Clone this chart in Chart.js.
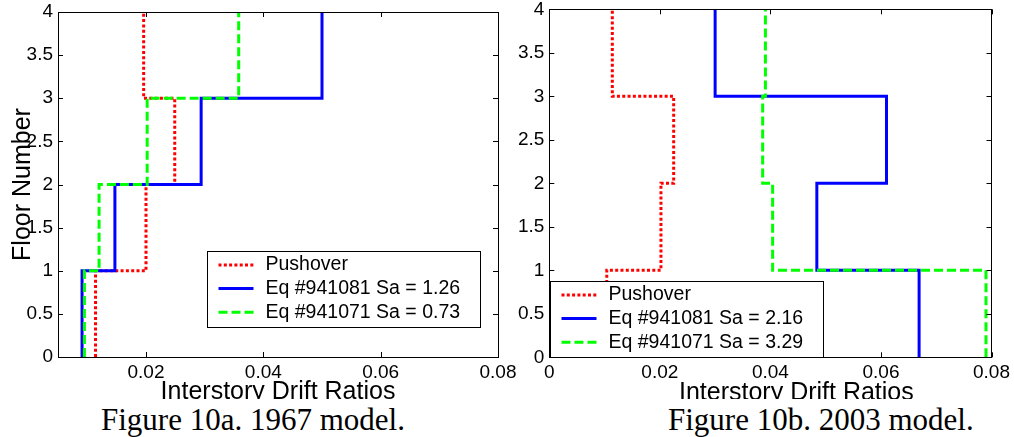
<!DOCTYPE html>
<html>
<head>
<meta charset="utf-8">
<script src="https://cdn.jsdelivr.net/npm/chart.js@4.4.1/dist/chart.umd.min.js"></script>
<style>
  body { margin: 0; background: #fff; width: 1014px; height: 437px; position: relative; overflow: hidden; }
  canvas { position: absolute; top: -10px; }
  #chart1967 { left: 0; }
  #chart2003 { left: 505px; }
  .xtitle { position: absolute; font: 25px/1 "Liberation Sans", Arial, sans-serif; white-space: nowrap; color: #000; }
  .captions { position: absolute; left: 0; top: 399px; width: 1014px; height: 38px; background: #fff; }
  .caption { position: absolute; top: 5px; font: 31px/1 "Liberation Serif", "Times New Roman", serif; white-space: nowrap; color: #000; }
</style>
</head>
<body>
<canvas id="chart1967" width="530" height="430"></canvas>
<canvas id="chart2003" width="509" height="430"></canvas>
<div class="xtitle" style="left:679px; top:379px">Interstory Drift Ratios</div>
<div class="captions">
  <span class="caption" style="left:101px">Figure 10a. 1967 model.</span>
  <span class="caption" style="left:668px">Figure 10b. 2003 model.</span>
</div>
<script>
const floors = [0, 1, 2, 3, 4];
const yTicks = [0, 0.5, 1, 1.5, 2, 2.5, 3, 3.5, 4];
const yTickLabels = ['0', '0.5', '1', '1.5', '2', '2.5', '3', '3.5', '4'];

// 1967 model: drift ratio of stories 1..4
const labels1967 = ['Pushover', 'Eq #941081 Sa = 1.26', 'Eq #941071 Sa = 0.73'];
const pushover1967 = [0.0114, 0.0200, 0.0249, 0.0196];
const eq941081_1967 = [0.0091, 0.0147, 0.0294, 0.0500];
const eq941071_1967 = [0.0095, 0.0120, 0.0202, 0.0358];
const xTicks1967 = [0.02, 0.04, 0.06, 0.08];
const xTickLabels1967 = ['0.02', '0.04', '0.06', '0.08'];

// 2003 model
const labels2003 = ['Pushover', 'Eq #941081 Sa = 2.16', 'Eq #941071 Sa = 3.29'];
const pushover2003 = [0.0104, 0.0202, 0.0225, 0.0114];
const eq941081_2003 = [0.0669, 0.0484, 0.0610, 0.0300];
const eq941071_2003 = [0.0790, 0.0404, 0.0386, 0.0391];
const xTicks2003 = [0, 0.02, 0.04, 0.06, 0.08];
const xTickLabels2003 = ['0', '0.02', '0.04', '0.06', '0.08'];

Chart.defaults.font.family = '"Liberation Sans", Arial, sans-serif';
Chart.defaults.color = '#000';

// constant drift over each story -> staircase profile
function profile(drifts) {
    const pts = [];
    drifts.forEach((d, i) => {
        pts.push({x: d, y: floors[i]});
        pts.push({x: d, y: floors[i + 1]});
    });
    return pts;
}

// matlab style box: inward ticks on all sides + legend box inside the axes
const framePlugin = {
    id: 'frame',
    afterDatasetsDraw(chart, args, opts) {
        const {ctx, chartArea: a, scales: {x, y}} = chart;
        ctx.save();
        ctx.strokeStyle = '#000';
        ctx.lineWidth = 1;
        ctx.beginPath();
        x.ticks.forEach(t => {
            const px = Math.round(x.getPixelForValue(t.value)) + 0.5;
            ctx.moveTo(px, a.bottom); ctx.lineTo(px, a.bottom - 5);
            ctx.moveTo(px, a.top); ctx.lineTo(px, a.top + 5);
        });
        y.ticks.forEach(t => {
            const py = Math.round(y.getPixelForValue(t.value)) + 0.5;
            ctx.moveTo(a.left, py); ctx.lineTo(a.left + 5, py);
            ctx.moveTo(a.right, py); ctx.lineTo(a.right - 5, py);
        });
        ctx.stroke();

        const bx = Math.round(a.left + opts.legendLeft) + 0.5;
        const by = Math.round(a.top + opts.legendTop) + 0.5;
        const bw = 273, bh = 76;
        ctx.fillStyle = '#fff';
        ctx.fillRect(bx, by, bw, bh);
        ctx.strokeRect(bx, by, bw, bh);
        ctx.font = '19.5px "Liberation Sans", Arial, sans-serif';
        ctx.textBaseline = 'middle';
        chart.data.datasets.forEach((ds, i) => {
            const cy = by + 13.5 + i * 23.6;
            ctx.setLineDash(ds.borderDash || []);
            ctx.strokeStyle = ds.borderColor;
            ctx.lineWidth = ds.borderWidth;
            ctx.beginPath();
            ctx.moveTo(bx + 11, cy);
            ctx.lineTo(bx + 46, cy);
            ctx.stroke();
            ctx.setLineDash([]);
            ctx.fillStyle = '#000';
            ctx.fillText(ds.label, bx + 58, cy);
        });

        ctx.strokeStyle = '#000';
        ctx.lineWidth = 1;
        ctx.strokeRect(Math.round(a.left) + 0.5, Math.round(a.top) + 0.5,
            Math.round(a.right - a.left), Math.round(a.bottom - a.top));
        ctx.restore();
    }
};

function makeChart(id, labels, series, xMin, xTicks, xTickLabels, box) {
    const styles = [
        {color: '#ff0000', dash: [3, 2.3], order: 3},
        {color: '#0000ff', dash: [], order: 2},
        {color: '#00ff00', dash: [9, 4], order: 1}
    ];
    return new Chart(document.getElementById(id), {
        type: 'line',
        data: {
            datasets: series.map((s, i) => ({
                label: labels[i],
                data: profile(s),
                borderColor: styles[i].color,
                borderDash: styles[i].dash,
                borderWidth: 3,
                borderJoinStyle: 'miter',
                pointRadius: 0,
                tension: 0,
                fill: false,
                order: styles[i].order
            }))
        },
        options: {
            responsive: false,
            animation: false,
            devicePixelRatio: 1,
            layout: {padding: {left: 0, right: box.padRight, top: box.padTop, bottom: 0}},
            plugins: {
                legend: {display: false},
                tooltip: {enabled: false},
                frame: {legendLeft: box.legendLeft, legendTop: box.legendTop}
            },
            scales: {
                x: {
                    type: 'linear',
                    min: xMin,
                    max: 0.08,
                    grid: {display: false, drawTicks: false},
                    border: {display: false},
                    afterBuildTicks: (s) => { s.ticks = xTicks.map(v => ({value: v})); },
                    afterFit: (s) => { s.height = box.xHeight; },
                    ticks: {
                        padding: 4,
                        maxRotation: 0,
                        font: {size: 19},
                        callback: (v, i) => xTickLabels[i]
                    },
                    title: {
                        display: box.xTitle,
                        text: 'Interstory Drift Ratios',
                        font: {size: 25},
                        padding: {bottom: 13}
                    }
                },
                y: {
                    type: 'linear',
                    min: 0,
                    max: 4,
                    grid: {display: false, drawTicks: false},
                    border: {display: false},
                    afterBuildTicks: (s) => { s.ticks = yTicks.map(v => ({value: v})); },
                    afterFit: (s) => { s.width = box.yWidth; },
                    ticks: {
                        padding: 5,
                        font: {size: 19},
                        callback: (v, i) => yTickLabels[i]
                    },
                    title: {
                        display: box.yTitle,
                        text: 'Floor Number',
                        font: {size: 25},
                        padding: {top: 8}
                    }
                }
            }
        },
        plugins: [framePlugin]
    });
}

makeChart('chart1967', labels1967, [pushover1967, eq941081_1967, eq941071_1967],
    0.005, xTicks1967, xTickLabels1967,
    {padRight: 32, padTop: 22, xHeight: 63, yWidth: 58, legendLeft: 149, legendTop: 238.7, xTitle: true, yTitle: true});

makeChart('chart2003', labels2003, [pushover2003, eq941081_2003, eq941071_2003],
    0, xTicks2003, xTickLabels2003,
    {padRight: 21.3, padTop: 19.3, xHeight: 62.7, yWidth: 44.3, legendLeft: 0.7, legendTop: 271.7, xTitle: false, yTitle: false});
</script>
</body>
</html>
